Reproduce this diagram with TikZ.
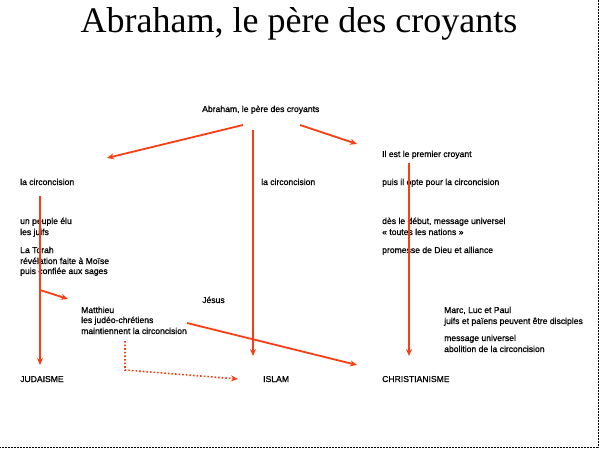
\documentclass[tikz,border=0pt]{standalone}
\usepackage{fontspec}
\setmainfont{Liberation Sans}
\newfontfamily\smallfont[FakeBold=0.8]{Liberation Sans}
\newfontfamily\titlefont{Liberation Serif}
\usetikzlibrary{arrows.meta}
\definecolor{arr}{RGB}{250,62,20}
\begin{document}
\begin{tikzpicture}[x=1pt,y=-1pt,
  txt/.style={anchor=base west, inner sep=0pt, font=\smallfont\fontsize{8.6}{10}\selectfont},
  conn/.style={draw=arr, line width=1.8pt, -{Stealth[length=7pt,width=6pt]}},
  dotconn/.style={draw=arr, line width=1.6pt, dotted, -{Stealth[length=7pt,width=6pt]}},
  frame/.style={draw=black, line width=1pt, dash pattern=on 2pt off 1pt}]
\useasboundingbox (0,0) rectangle (601,449);
\draw[frame] (598,0) -- (598,447) -- (0,447);
% title
\node[anchor=base, inner sep=0pt, font=\titlefont\fontsize{36}{40}\selectfont] (title) at (299,33) {Abraham, le père des croyants};
% texts
\node[txt] (abr) at (202,112) {Abraham, le père des croyants};
\node[txt] (prem) at (382,157) {Il est le premier croyant};
\node[txt] (circL) at (20,185) {la circoncision};
\node[txt] (circM) at (261,185) {la circoncision};
\node[txt] (circR) at (382,185) {puis il opte pour la circoncision};
\node[txt] (peuple1) at (20,224) {un peuple élu};
\node[txt] (peuple2) at (20,235) {les juifs};
\node[txt] (deb1) at (382,224) {dès le début, message universel};
\node[txt] (deb2) at (382,235) {« toutes les nations »};
\node[txt] (tor1) at (20,253) {La Torah};
\node[txt] (tor2) at (20,264) {révélation faite à Moïse};
\node[txt] (tor3) at (20,274) {puis confiée aux sages};
\node[txt] (prom) at (382,253) {promesse de Dieu et alliance};
\node[txt] (jesus) at (202,303) {Jésus};
\node[txt] (mat1) at (81,313) {Matthieu};
\node[txt] (mat2) at (81,323) {les judéo-chrétiens};
\node[txt] (mat3) at (81,334) {maintiennent la circoncision};
\node[txt] (marc1) at (444,313) {Marc, Luc et Paul};
\node[txt] (marc2) at (444,324) {juifs et païens peuvent être disciples};
\node[txt] (marc3) at (444,341) {message universel};
\node[txt] (marc4) at (444,352) {abolition de la circoncision};
\node[txt] (jud) at (20,382) {JUDAISME};
\node[txt] (isl) at (263,382) {ISLAM};
\node[txt] (chr) at (382,382) {CHRISTIANISME};
% connector end points
\coordinate (a1s) at (243,125); \coordinate (a1e) at (107,158);
\coordinate (a2s) at (253,130); \coordinate (a2e) at (253,356);
\coordinate (a3s) at (300,125); \coordinate (a3e) at (357,144);
\coordinate (a4s) at (40,196);  \coordinate (a4e) at (40,365);
\coordinate (a5s) at (40,290);  \coordinate (a5e) at (68,299);
\coordinate (a6s) at (409,163); \coordinate (a6e) at (409,356);
\coordinate (a7s) at (187,323); \coordinate (a7e) at (357,365);
\coordinate (d1) at (125,341); \coordinate (d2) at (125,370); \coordinate (d3) at (238,379);
% connectors
\draw[conn] (a1s) -- (a1e);
\draw[conn] (a2s) -- (a2e);
\draw[conn] (a3s) -- (a3e);
\draw[conn] (a4s) -- (a4e);
\draw[conn] (a5s) -- (a5e);
\draw[conn] (a6s) -- (a6e);
\draw[conn] (a7s) -- (a7e);
\draw[dotconn] (d1) -- (d2) -- (d3);
\end{tikzpicture}
\end{document}
